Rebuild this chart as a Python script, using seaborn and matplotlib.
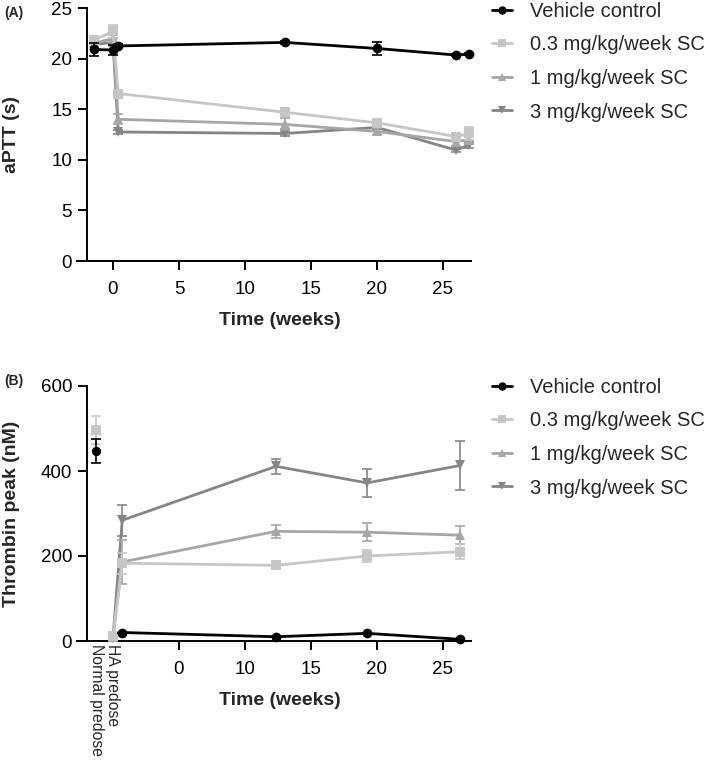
import matplotlib
matplotlib.use("Agg")
import matplotlib.pyplot as plt
from matplotlib.lines import Line2D
import seaborn as sns
import numpy as np
import pandas as pd

sns.set_style("ticks")
plt.rcParams['font.family'] = ['Liberation Sans', 'DejaVu Sans']

#### data
groups = ["Vehicle control", "0.3 mg/kg/week SC", "1 mg/kg/week SC", "3 mg/kg/week SC"]
colors = ["#000000", "#c6c6c6", "#a6a6a6", "#858585"]
markers = ["o", "s", "^", "v"]

# (A) aPTT
weeks_a = [-1.45, 0, 0.4, 13, 20, 26, 27]
aptt_vehicle = [20.9, 20.85, 21.25, 21.6, 21.0, 20.35, 20.45]
aptt_vehicle_err = [0.6, 0.45, 0.15, 0.15, 0.6, 0.1, 0.1]
aptt_03 = [21.8, 22.7, 16.55, 14.7, 13.65, 12.3, 12.6]
aptt_03_err = [0.3, 0.65, 0.2, 0.3, 0.3, 0.3, 0.6]
aptt_1 = [21.5, 22.0, 14.0, 13.5, 12.8, 11.8, 12.0]
aptt_1_err = [0.4, 0.8, 0.5, 0.6, 0.3, 0.4, 0.4]
aptt_3 = [21.4, 21.6, 12.75, 12.6, 13.2, 10.95, 11.5]
aptt_3_err = [0.3, 0.4, 0.2, 0.2, 0.2, 0.2, 0.3]

# (B) thrombin peak
weeks_b = [0, 0.7, 12.35, 19.25, 26.3]
thr_vehicle = [np.nan, 20, 10, 18, 4]
thr_vehicle_err = [0, 0, 0, 0, 0]
thr_03 = [12, 183, 178, 200, 210]
thr_03_err = [0, 25, 5, 15, 18]
thr_1 = [9, 186, 258, 256, 249]
thr_1_err = [0, 52, 16, 21, 21]
thr_3 = [8, 284, 411, 372, 413]
thr_3_err = [0, 36, 17, 33, 57]

normal_pos = -1.25
normal_vehicle, normal_vehicle_err = 448, 28
normal_03, normal_03_err = 497, 33

cat_pos = [-1.25, 0]
cat_labels = ["Normal predose", "HA predose"]
xticks_b = [5, 10, 15, 20, 25]
xticklabels_b = ["0", "10", "15", "20", "25"]

aptt = [(aptt_vehicle, aptt_vehicle_err), (aptt_03, aptt_03_err),
        (aptt_1, aptt_1_err), (aptt_3, aptt_3_err)]
thr = [(thr_vehicle, thr_vehicle_err), (thr_03, thr_03_err),
       (thr_1, thr_1_err), (thr_3, thr_3_err)]

W, H = 709, 761
fig = plt.figure(figsize=(W / 100, H / 100), dpi=100)
x0, x1 = 76.7, 470.7
axA = fig.add_axes([x0 / W, 1 - 261 / H, (x1 - x0) / W, 253 / H])
axB = fig.add_axes([x0 / W, 1 - 641 / H, (x1 - x0) / W, 255 / H])


def draw(ax, weeks, series):
    for i in range(3, -1, -1):
        vals, err = series[i]
        df = pd.DataFrame({"week": weeks, "val": vals, "err": err}).dropna()
        sns.lineplot(data=df, x="week", y="val", ax=ax, color=colors[i],
                     marker=markers[i], markersize=7, markeredgewidth=0,
                     linewidth=2, zorder=5 - i, clip_on=False, sort=False)
        ax.errorbar(df["week"], df["val"], yerr=df["err"], fmt="none",
                    ecolor=colors[i], elinewidth=1.2, capsize=3.5, capthick=1.2,
                    zorder=5 - i, clip_on=False)


def style(ax):
    for s in ["top", "right"]:
        ax.spines[s].set_visible(False)
    ax.spines["left"].set_position(("data", -2))
    for s in ["left", "bottom"]:
        ax.spines[s].set_linewidth(1.4)
        ax.spines[s].set_color("black")
    ax.tick_params(direction="out", length=6.5, width=1.4, labelsize=13.5,
                   colors="black")
    ax.tick_params(axis="x", pad=8)
    ax.tick_params(axis="y", pad=4)
    ax.set_xlim(-2.75, 27.1)


draw(axA, weeks_a, aptt)
style(axA)
axA.set_ylim(0, 25)
axA.set_yticks([0, 5, 10, 15, 20, 25])
axA.set_xticks([0, 5, 10, 15, 20, 25])
axA.set_ylabel("aPTT (s)", fontsize=14, fontweight="bold")
axA.set_xlabel("Time (weeks)", fontsize=14, fontweight="bold")
axA.yaxis.set_label_coords(-0.143, 0.5)
axA.xaxis.set_label_coords(0.516, -0.2)

draw(axB, weeks_b, thr)
for i, (v, e) in [(0, (normal_vehicle, normal_vehicle_err)), (1, (normal_03, normal_03_err))]:
    sns.scatterplot(x=[normal_pos], y=[v], ax=axB, color=colors[i], marker=markers[i],
                    s=45, linewidth=0, zorder=5 - i)
    axB.errorbar([normal_pos], [v], yerr=[e], fmt="none", ecolor=colors[i],
                 elinewidth=1.2, capsize=3.5, capthick=1.2, zorder=5 - i)
style(axB)
axB.set_ylim(0, 600)
axB.set_yticks([0, 200, 400, 600])
axB.set_xticks(xticks_b)
axB.set_xticklabels(xticklabels_b)
for p, lab in zip(cat_pos, cat_labels):
    axB.text(p, -0.01, lab, transform=axB.get_xaxis_transform(), rotation=270,
             ha="center", va="top", fontsize=11.3)
axB.set_ylabel("Thrombin peak (nM)", fontsize=14, fontweight="bold")
axB.set_xlabel("Time (weeks)", fontsize=14, fontweight="bold")
axB.yaxis.set_label_coords(-0.143, 0.5)
axB.xaxis.set_label_coords(0.516, -0.2)

handles = [Line2D([], [], color=colors[i], marker=markers[i], markersize=6,
                  markeredgewidth=0, linewidth=2) for i in range(4)]
for ax, ytop in [(axA, 2), (axB, 378)]:
    ax.legend(handles, groups, loc="upper left", bbox_to_anchor=(492 / W, 1 - ytop / H),
              bbox_transform=fig.transFigure, frameon=False, fontsize=14.5,
              handlelength=1.0, handletextpad=0.9, labelspacing=0.72,
              borderpad=0, borderaxespad=0)

fig.text(4 / W, 1 - 13 / H, "(A)", fontsize=10, fontweight="bold", va="center")
fig.text(4 / W, 1 - 381 / H, "(B)", fontsize=10, fontweight="bold", va="center")

plt.savefig("out.png", dpi=100)
